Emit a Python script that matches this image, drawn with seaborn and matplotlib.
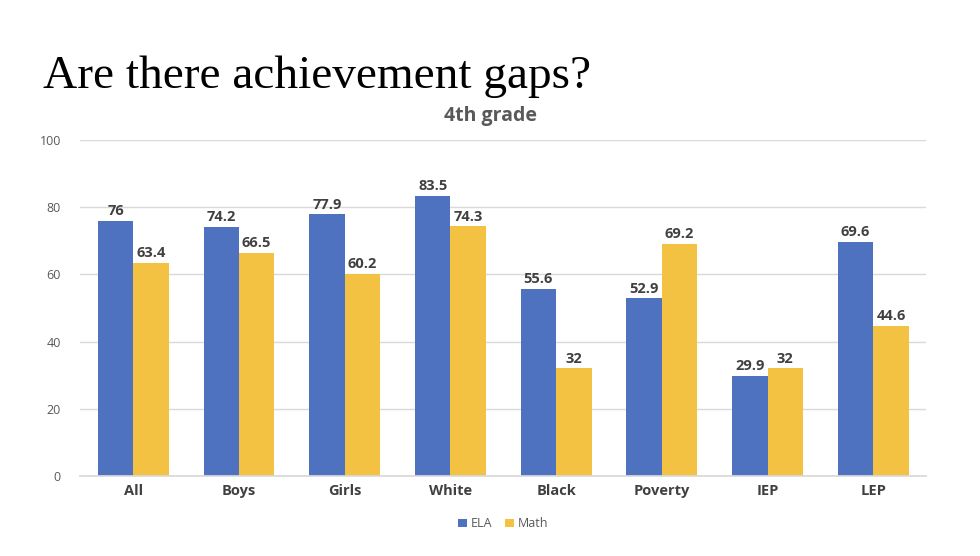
import numpy as np
import pandas as pd
import matplotlib.pyplot as plt
import seaborn as sns

groups = ['All', 'Boys', 'Girls', 'White', 'Black', 'Poverty', 'IEP', 'LEP']
ela = [76, 74.2, 77.9, 83.5, 55.6, 52.9, 29.9, 69.6]
math = [63.4, 66.5, 60.2, 74.3, 32, 69.2, 32, 44.6]
subjects = ['ELA', 'Math']
colors = ['#4E72C0', '#F4C242']

df = pd.DataFrame({
    'group': groups * 2,
    'subject': ['ELA'] * len(groups) + ['Math'] * len(groups),
    'value': ela + math,
})

sns.set_theme(style='white')
plt.rcParams['font.family'] = ['Open Sans', 'DejaVu Sans']

fig = plt.figure(figsize=(9.8, 5.56), dpi=100)
ax = fig.add_axes([0.082, 0.144, 0.863, 0.604])

sns.barplot(data=df, x='group', y='value', hue='subject', hue_order=subjects,
            palette=colors, width=0.67, saturation=1, linewidth=0, ax=ax, legend=True)

# value labels
for cont in ax.containers:
    ax.bar_label(cont, labels=[f'{v:g}' for v in cont.datavalues], padding=2,
                 fontsize=10.5, fontweight='bold', color='#404040')

ax.set_ylim(0, 100)
ax.set_yticks(range(0, 101, 20))
ax.yaxis.grid(True, color='#D9D9D9', linewidth=1)
ax.set_axisbelow(True)
for s in ['top', 'right', 'left']:
    ax.spines[s].set_visible(False)
ax.spines['bottom'].set_color('#D9D9D9')
ax.set_xlabel('')
ax.set_ylabel('')
ax.tick_params(axis='y', labelsize=9, colors='#595959', length=0, pad=14)
ax.tick_params(axis='x', labelsize=10.5, colors='#404040', length=0, pad=6)
for t in ax.get_xticklabels():
    t.set_fontweight('bold')
ax.set_xlim(-0.5, len(groups) - 0.5)

ax.legend(loc='upper center', bbox_to_anchor=(0.5, -0.09), ncol=2, frameon=False,
          fontsize=9, handlelength=0.7, handleheight=0.7, handletextpad=0.3,
          columnspacing=1.0, labelcolor='#595959')

fig.text(0.044, 0.842, 'Are there achievement gaps?', fontsize=34,
         family='Liberation Serif', color='black')
fig.text(0.5, 0.782, '4th grade', fontsize=14, fontweight='bold',
         color='#595959', ha='center')

fig.savefig('out.png', dpi=100)
